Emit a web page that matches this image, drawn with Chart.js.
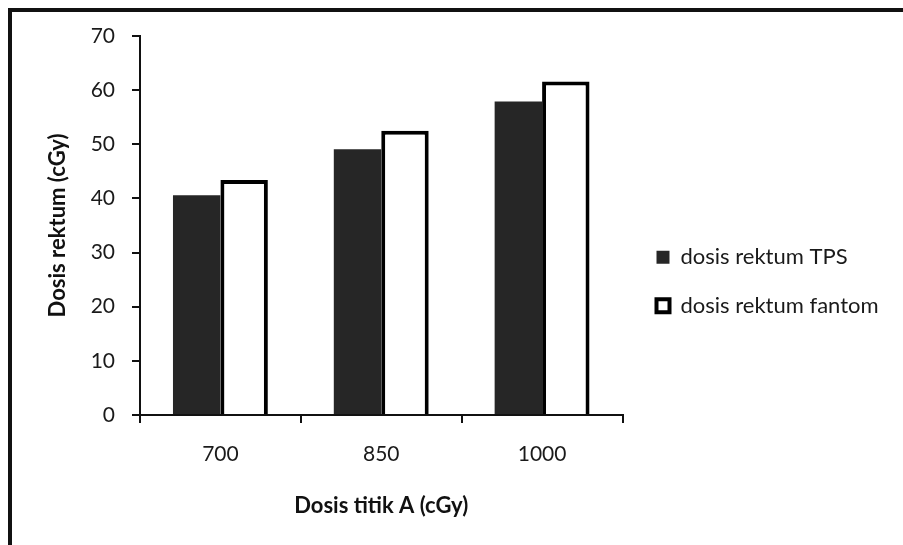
<!DOCTYPE html>
<html>
<head>
<meta charset="utf-8">
<script src="https://cdn.jsdelivr.net/npm/chart.js@4/dist/chart.umd.min.js"></script>
<style>
html,body{margin:0;padding:0;background:#fff;}
#wrap{position:relative;width:903px;height:545px;}
</style>
</head>
<body>
<div id="wrap"><canvas id="c" width="903" height="545"></canvas></div>
<script>
const categories = ['700', '850', '1000'];
const tpsValues = [40.6, 49.1, 57.9];
const fantomValues = [43.4, 52.5, 61.6];
const seriesNames = ['dosis rektum TPS', 'dosis rektum fantom'];
const yMin = 0, yMax = 70, yStep = 10;
const xTitle = 'Dosis titik A (cGy)';
const yTitle = 'Dosis rektum (cGy)';

const FONT = 'Lato, "Open Sans", sans-serif';

const frame = {
  id: 'frame',
  beforeDraw(chart) {
    const ctx = chart.ctx;
    ctx.save();
    ctx.fillStyle = '#fff';
    ctx.fillRect(0, 0, chart.width, chart.height);
    ctx.fillStyle = '#111';
    ctx.fillRect(8, 8, 4, chart.height - 8);
    ctx.fillRect(8, 8, chart.width - 8, 4);
    ctx.restore();
  }
};

const legendShift = {
  id: 'legendShift',
  afterLayout(chart) {
    const lg = chart.legend;
    if (lg) {
      const dx = 656.5 - (lg.left + lg.options.labels.padding);
      lg.left += dx;
      lg.right = chart.width + 100;
      lg.top -= 9; lg.bottom -= 9;
    }
  }
};

new Chart(document.getElementById('c'), {
  type: 'bar',
  data: {
    labels: categories,
    datasets: [
      { label: seriesNames[0], data: tpsValues, backgroundColor: '#262626', borderWidth: 0,
        barPercentage: 1, categoryPercentage: 0.59 },
      { label: seriesNames[1], data: fantomValues, backgroundColor: '#ffffff', borderColor: '#000',
        borderWidth: 4, borderSkipped: 'bottom', barPercentage: 1, categoryPercentage: 0.59 }
    ]
  },
  options: {
    responsive: false,
    animation: false,
    layout: { padding: { top: 36, left: 0, right: 73, bottom: 0 } },
    plugins: {
      legend: {
        position: 'right',
        align: 'center',
        labels: { font: { family: FONT, size: 22 }, color: '#1a1a1a', boxWidth: 13, boxHeight: 13, padding: 26.5 }
      },
      tooltip: { enabled: false }
    },
    scales: {
      x: {
        afterFit(s) { s.height = 130; },
        grid: { display: true, drawOnChartArea: false, drawTicks: true, tickLength: 8, color: '#111', lineWidth: 2, offset: true },
        border: { display: true, color: '#111', width: 2 },
        ticks: { font: { family: FONT, size: 21 }, color: '#1a1a1a', padding: 19 },
        title: { display: true, text: xTitle, font: { family: FONT, size: 22, weight: 'bold' }, color: '#111', padding: { top: 0, bottom: 26 } }
      },
      y: {
        min: yMin, max: yMax,
        afterFit(s) { s.width = 140; },
        grid: { display: true, drawOnChartArea: false, drawTicks: true, tickLength: 8, color: '#111', lineWidth: 2 },
        border: { display: true, color: '#111', width: 2 },
        ticks: { stepSize: yStep, font: { family: FONT, size: 21 }, color: '#1a1a1a', padding: 17 },
        title: { display: true, text: yTitle, font: { family: FONT, size: 22, weight: 'bold' }, color: '#111', padding: { top: 45, bottom: 0 } }
      }
    }
  },
  plugins: [frame, legendShift]
});
</script>
</body>
</html>
